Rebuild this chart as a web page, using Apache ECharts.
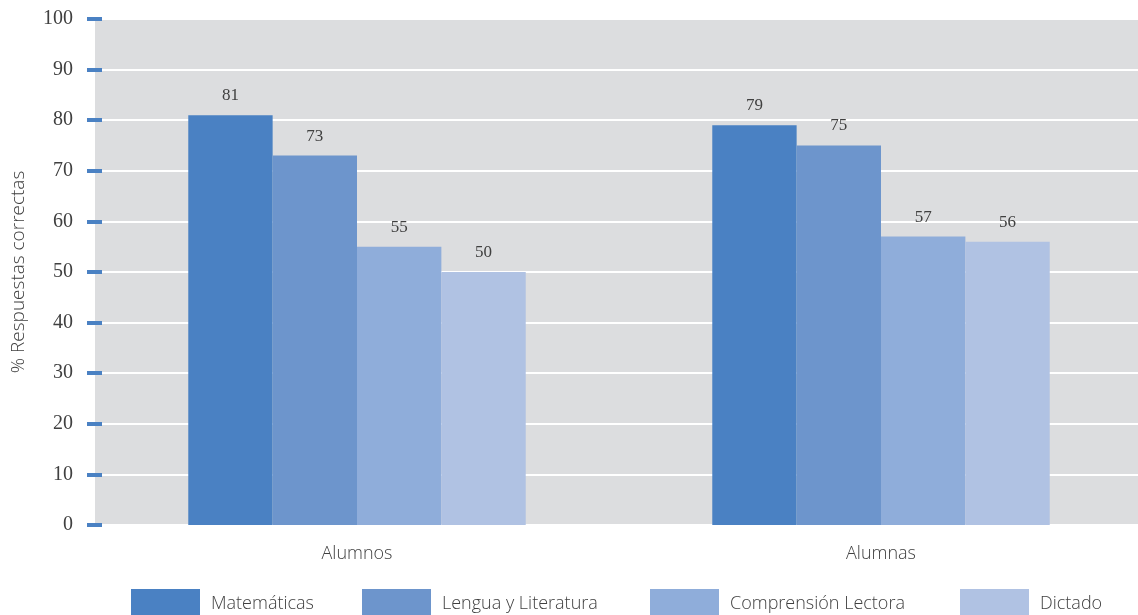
<!DOCTYPE html>
<html lang="es">
<head>
    <meta charset="utf-8"/>
    <title>% Respuestas correctas</title>
    <script src="https://cdn.jsdelivr.net/npm/echarts@6/dist/echarts.min.js"></script>
    <style>
        html, body { margin: 0; padding: 0; background: #fff; }
        #chart { width: 1138px; height: 615px; }
    </style>
</head>
<body>
<div id="chart"></div>
<script>
    // datos
    var categorias = ['Alumnos', 'Alumnas'];
    var materias = ['Matemáticas', 'Lengua y Literatura', 'Comprensión Lectora', 'Dictado'];
    var matematicas = [81, 79];
    var lengua = [73, 75];
    var comprension = [55, 57];
    var dictado = [50, 56];
    var yTicks = [0, 10, 20, 30, 40, 50, 60, 70, 80, 90, 100];

    var colores = ['#4A81C3', '#6D95CC', '#8FADDA', '#B0C2E3'];
    var valores = [matematicas, lengua, comprension, dictado];
    var leyendaX = [131, 362, 650, 960];

    var serifFont = '"Liberation Serif", "DejaVu Serif", serif';
    var sansFont = '"Open Sans", "Noto Sans", sans-serif';

    var chart = echarts.init(document.getElementById('chart'));

    var series = [];
    var legends = [];
    for (var i = 0; i < materias.length; i++) {
        series.push({
            name: materias[i],
            type: 'bar',
            data: valores[i],
            barGap: '0%',
            barCategoryGap: '35.6%',
            itemStyle: { color: colores[i] },
            label: {
                show: true,
                position: 'top',
                distance: 11,
                color: '#404040',
                fontFamily: serifFont,
                fontSize: 17
            }
        });
        legends.push({
            data: [materias[i]],
            left: leyendaX[i],
            top: 589,
            padding: 0,
            itemWidth: 69,
            itemHeight: 30,
            icon: 'rect',
            textStyle: {
                color: '#404040',
                fontFamily: sansFont,
                fontWeight: 300,
                fontSize: 18,
                padding: [0, 0, 0, 6]
            }
        });
    }

    var option = {
        animation: false,
        grid: {
            left: 95,
            right: -5,
            top: 19,
            bottom: 90,
            outerBoundsMode: 'none',
            show: true,
            backgroundColor: '#DCDDDF',
            borderWidth: 0
        },
        legend: legends,
        xAxis: {
            type: 'category',
            data: categorias,
            axisLine: { show: false },
            axisTick: { show: false },
            axisLabel: {
                margin: 20,
                color: '#404040',
                fontFamily: sansFont,
                fontWeight: 300,
                fontSize: 18
            }
        },
        yAxis: {
            type: 'value',
            min: yTicks[0],
            max: yTicks[yTicks.length - 1],
            interval: 10,
            offset: -7,
            name: '% Respuestas correctas',
            nameLocation: 'middle',
            nameGap: 74,
            nameTextStyle: {
                color: '#404040',
                fontFamily: sansFont,
                fontWeight: 300,
                fontSize: 19
            },
            axisLine: { show: false },
            axisTick: {
                show: true,
                length: 15,
                lineStyle: { color: '#4A81C3', width: 4 }
            },
            axisLabel: {
                margin: 29,
                color: '#404040',
                fontFamily: serifFont,
                fontSize: 20
            },
            splitLine: {
                lineStyle: { color: '#FFFFFF', width: 2 }
            }
        },
        series: series
    };
    chart.setOption(option);
</script>
</body>
</html>
